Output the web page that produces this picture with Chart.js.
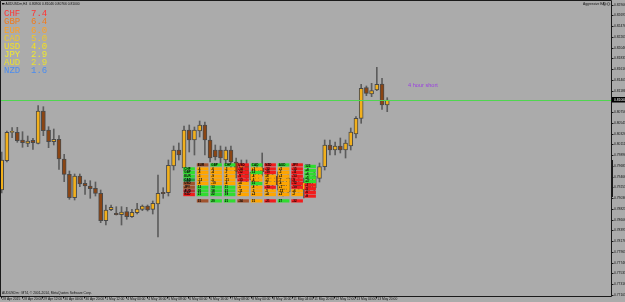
<!DOCTYPE html>
<html>
<head>
<meta charset="utf-8">
<script src="https://cdn.jsdelivr.net/npm/chart.js@4.4.0/dist/chart.umd.min.js"></script>
<style>
html, body { margin: 0; padding: 0; background: #ababab; overflow: hidden; }
canvas { display: block; }
</style>
</head>
<body>
<canvas id="mt4Chart" width="625" height="302"></canvas>
<script>
// AUDUSDm H4 candles, 28 Apr 2015 04:00 .. 14 May 2015 04:00
const candleOpen = [0.7920,0.79786,0.80354,0.80354,0.8020,0.80134,0.80194,0.80134,0.8078,0.8040,
  0.80166,0.80214,0.7982,0.79514,0.79046,0.7948,0.79334,0.7928,0.79234,0.79134,
  0.78586,0.78806,0.78734,0.78706,0.78766,0.78666,0.78746,0.78814,0.7888,0.78814,
  0.7892,0.79154,0.79146,0.7968,0.8000,0.7964,0.8040,0.8020,0.8038,0.8050,
  0.8020,0.8000,0.8000,0.7980,0.8000,0.7976,0.7950,0.7970,0.7940,0.7936,
  0.7964,0.7956,0.7932,0.7948,0.7930,0.7916,0.7944,0.7936,0.7920,0.7936,
  0.7924,0.79434,0.79666,0.8010,0.8000,0.8008,0.8000,0.8008,0.8032,0.80634,
  0.81246,0.8112,0.8120,0.8132,0.8090];
const candleHigh = [0.7996,0.8038,0.80446,0.80454,0.80366,0.8028,0.80234,0.80886,0.80866,0.80466,
  0.8042,0.80286,0.79914,0.7958,0.7952,0.7952,0.7940,0.79386,0.7936,0.7920,
  0.7890,0.7890,0.78866,0.78866,0.78854,0.78814,0.78934,0.7890,0.7890,0.7898,
  0.7950,0.79246,0.7980,0.8008,0.8014,0.8048,0.8050,0.8046,0.8058,0.8056,
  0.8028,0.8010,0.8008,0.8006,0.8008,0.7984,0.7980,0.7980,0.7964,0.7970,
  0.7994,0.7964,0.7956,0.7956,0.7940,0.7950,0.7952,0.7948,0.7944,0.7950,
  0.7956,0.7974,0.8020,0.8020,0.8016,0.8024,0.8020,0.8044,0.80666,0.81314,
  0.8128,0.81334,0.81654,0.81434,0.81046];
const candleLow = [0.7914,0.7976,0.80246,0.80154,0.80054,0.80066,0.80014,0.8012,0.80286,0.80046,
  0.8010,0.79614,0.79366,0.79014,0.7900,0.79266,0.79114,0.79034,0.7908,0.78546,
  0.7850,0.78786,0.7870,0.7850,0.78614,0.78654,0.7872,0.78786,0.7878,0.7872,
  0.7826,0.79034,0.7908,0.7960,0.7980,0.7958,0.7996,0.7990,0.8026,0.7990,
  0.7976,0.7980,0.7974,0.7970,0.7960,0.7944,0.7940,0.7934,0.7930,0.7924,
  0.7948,0.7928,0.7920,0.7920,0.7908,0.7910,0.7924,0.7916,0.7904,0.7916,
  0.7916,0.7936,0.7960,0.7990,0.7990,0.7994,0.7984,0.8000,0.8024,0.80534,
  0.81086,0.81066,0.81186,0.80814,0.80766];
const candleClose = [0.7980,0.80354,0.8036,0.80186,0.80146,0.8018,0.80146,0.8078,0.80386,0.80166,
  0.80214,0.7982,0.79514,0.79046,0.7948,0.7932,0.7928,0.79226,0.79134,0.78586,
  0.7880,0.78854,0.78706,0.7876,0.78666,0.78754,0.7882,0.7888,0.7880,0.78934,
  0.79134,0.79126,0.79694,0.8000,0.7990,0.8040,0.8020,0.8040,0.8050,0.8020,
  0.7984,0.7986,0.7984,0.8000,0.7976,0.7956,0.7970,0.7944,0.7956,0.7964,
  0.7956,0.7936,0.7948,0.7930,0.7920,0.7944,0.7932,0.7928,0.7936,0.7924,
  0.7948,0.79666,0.8010,0.8000,0.8008,0.8000,0.8014,0.8036,0.80634,0.81234,
  0.81134,0.81186,0.81314,0.8090,0.8100];

const dateTickIndex = [0,4,8,12,16,20,24,28,32,36,40,44,48,52,56,60,64,68,72];
const dateTickLabels = ['28 Apr 2015','28 Apr 20:00','29 Apr 12:00','30 Apr 04:00','30 Apr 20:00',
  '1 May 12:00','4 May 00:00','4 May 16:00','5 May 08:00','6 May 00:00','6 May 16:00',
  '7 May 08:00','8 May 00:00','8 May 16:00','11 May 04:00','11 May 20:00','12 May 12:00',
  '13 May 04:00','13 May 20:00'];
const priceTicks = [0.82906,0.82691,0.82476,0.82261,0.82046,0.81831,0.81616,0.81401,0.81186,0.80971,
  0.80756,0.80541,0.80326,0.80111,0.79896,0.79681,0.79466,0.79251,0.79036,0.78821,
  0.78606,0.78391,0.78176,0.77961,0.77746,0.77531,0.77316,0.77101];
const levelPrice = 0.8099;

const strengthNames = ['CHF','GBP','EUR','CAD','USD','JPY','AUD','NZD'];
const strengthValues = [7.4,6.4,6.0,5.0,4.0,2.9,2.9,1.6];
const strengthColors = ['#ff3434','#f07a1a','#ffa020','#f0c828','#f5e020','#f0e830','#e8e030','#4a8cf0'];

// strength matrix drawn over the chart
const tableRowNames = ['CHF','GBP','EUR','CAD','USD','JPY','AUD','NZD'];
const tableRowColors = ['g','g','g','dg','br','br','dr','r'];
const tableHeads = ['EUR','GBP','CHF','USD','CAD','NZD','AUD','JPY'];
const tableHeadColors = ['br','g','g','r','g','r','g','r'];
const tableCells = [
  ['-4','-8','-3','-12','-8','12','20','21'],
  ['-6','-4','-9','-5','-10','13','18','22'],
  ['-3','-7','-2','-11','-6','11','21','19'],
  ['-14','-12','-9','-13','+4','-5','-11','-2'],
  ['+3','12','-4','-6','15','-8','-3','+2'],
  ['-12','-10','+6','+3','-2','-13','-5','+4'],
  ['+5','-3','+2','-7','-4','+1','-12','+3'],
  ['-15','-11','-13','-9','-12','-10','+6','-2']
];
const tableCellColors = [
  ['o','o','o','o','o','g','g','g'],
  ['o','o','o','o','o','g','g','g'],
  ['o','o','o','o','o','g','g','g'],
  ['r','r','r','r','o','o','o','o'],
  ['o','g','o','o','g','o','o','o'],
  ['r','r','o','o','o','r','o','o'],
  ['o','o','o','o','o','o','o','o'],
  ['r','r','r','r','r','r','o','o']
];
const tableSums = ['31','20','21','-34','15','-21','27','-32'];
const tableSumColors = ['br','g','g','br','o','r','g','r'];
const rankHead = '123';
const rankCells = ['+8','+6','+5','+3','-3','-5','-6','-8'];
const rankColors = ['g','g','g','g','r','r','r','r'];

const cellPalette = { o: '#ffa500', r: '#f21c1c', g: '#30dc30', br: '#a0522d', dg: '#1f9e3a', dr: '#b53030' };

const bodyData = candleOpen.map((o, i) => ({ x: i, y: [o, candleClose[i]] }));
const wickData = candleLow.map((l, i) => ({ x: i, y: [l, candleHigh[i]] }));
const bodyColors = candleOpen.map((o, i) => candleClose[i] >= o ? '#f2b01c' : '#8b4513');

const xMin = -0.13, xMax = 116.95;

const mt4Decor = {
  id: 'mt4Decor',
  beforeDraw(chart) {
    const ctx = chart.ctx;
    ctx.save();
    ctx.fillStyle = '#ababab';
    ctx.fillRect(0, 0, chart.width, chart.height);
    ctx.restore();
  },
  afterDatasetsDraw(chart) {
    const ctx = chart.ctx;
    const area = chart.chartArea;
    const xs = chart.scales.x, ys = chart.scales.y;
    ctx.save();

    // frame
    ctx.strokeStyle = '#1a1a1a';
    ctx.lineWidth = 1;
    ctx.beginPath();
    ctx.moveTo(0.5, 0.5); ctx.lineTo(area.right + 0.5, 0.5);
    ctx.moveTo(0.5, 0.5); ctx.lineTo(0.5, area.bottom + 0.5);
    ctx.moveTo(area.right + 0.5, 0.5); ctx.lineTo(area.right + 0.5, area.bottom + 0.5);
    ctx.lineTo(0, area.bottom + 0.5);
    ctx.stroke();
    ctx.fillStyle = '#1a1a1a';
    ctx.fillRect(area.right, 160, 2, 37);

    // price axis
    ctx.font = '3.3px "Liberation Sans"';
    ctx.textBaseline = 'middle';
    ctx.textAlign = 'left';
    priceTicks.forEach(v => {
      const y = Math.round(ys.getPixelForValue(v)) + 0.5;
      ctx.beginPath();
      ctx.moveTo(area.right, y); ctx.lineTo(area.right + 2.5, y);
      ctx.stroke();
      ctx.fillStyle = '#111';
      ctx.fillText(v.toFixed(5), area.right + 3, y);
    });
    const lastClose = candleClose[candleClose.length - 1];
    const cy = ys.getPixelForValue(lastClose);
    ctx.fillStyle = '#000';
    ctx.fillRect(area.right + 1, cy - 3, 14, 5.5);
    ctx.fillStyle = '#fff';
    ctx.fillText(lastClose.toFixed(5), area.right + 3, cy);

    // time axis
    ctx.fillStyle = '#111';
    dateTickIndex.forEach((idx, k) => {
      const x = Math.round(xs.getPixelForValue(idx) - 1) + 0.5;
      ctx.beginPath();
      ctx.moveTo(x, area.bottom); ctx.lineTo(x, area.bottom + 2.5);
      ctx.stroke();
      ctx.fillText(dateTickLabels[k], x + 0.8, area.bottom + 3);
    });

    // title and copyright
    ctx.fillRect(2, 3, 2.5, 1.5);
    ctx.fillText('AUDUSDm,H4  0.80900 0.81046 0.80766 0.81000', 5.5, 4);
    ctx.fillText('AUDUSDm : MT4, \u00a9 2001-2014, MetaQuotes Software Corp.', 2, 293);
    ctx.fillText('Aggressive EA', 583, 4);
    ctx.strokeStyle = '#222';
    ctx.lineWidth = 0.5;
    [604.5, 608.5].forEach(cx => { ctx.beginPath(); ctx.arc(cx, 4, 1.4, 0, Math.PI * 2); ctx.stroke(); });

    // note
    ctx.font = '5.6px "Liberation Sans"';
    ctx.fillStyle = '#9a3ee0';
    ctx.fillText('4 hour short', 408, 85);

    // strength list
    ctx.font = '9px "Liberation Mono"';
    strengthNames.forEach((n, i) => {
      ctx.fillStyle = strengthColors[i];
      ctx.fillText(n + '  ' + strengthValues[i].toFixed(1), 4, 14 + i * 8.1);
    });

    // matrix
    const x0 = 183.3, colStep = 13.5, colW = 11.6;
    const headY = 163.3, rowY0 = 167.3, rowStep = 3.67, cellH = 3.2, sumY = 199.3;
    ctx.font = 'bold 3px "Liberation Sans"';
    const cell = (x, y, key, txt) => {
      ctx.fillStyle = cellPalette[key];
      ctx.fillRect(x, y, colW, cellH);
      ctx.fillStyle = '#000';
      ctx.fillText(txt, x + 1, y + cellH / 2);
    };
    tableRowNames.forEach((n, r) => cell(x0, rowY0 + r * rowStep, tableRowColors[r], n));
    tableHeads.forEach((h, c) => {
      const x = x0 + (c + 1) * colStep;
      cell(x, headY, tableHeadColors[c], h);
      tableCells[c].forEach((t, r) => cell(x, rowY0 + r * rowStep, tableCellColors[c][r], t));
      cell(x, sumY, tableSumColors[c], tableSums[c]);
    });
    const xr = x0 + 9 * colStep - 0.5;
    cell(xr, headY + 1.5, 'g', rankHead);
    rankCells.forEach((t, r) => cell(xr, rowY0 + 1.5 + r * rowStep, rankColors[r], t));

    ctx.restore();
  }
};

new Chart(document.getElementById('mt4Chart').getContext('2d'), {
  type: 'bar',
  data: {
    datasets: [
      {
        type: 'line',
        data: [{ x: xMin, y: levelPrice }, { x: xMax, y: levelPrice }],
        borderColor: '#4fd64f',
        borderWidth: 1,
        pointRadius: 0,
        order: 1
      },
      {
        data: bodyData,
        backgroundColor: bodyColors,
        borderColor: '#4a4a4a',
        borderWidth: 1,
        borderSkipped: false,
        barThickness: 4,
        minBarLength: 1,
        grouped: false,
        order: 2
      },
      {
        data: wickData,
        backgroundColor: '#5c5c5c',
        borderWidth: 0,
        barThickness: 1,
        grouped: false,
        order: 3
      }
    ]
  },
  options: {
    responsive: false,
    animation: false,
    events: [],
    layout: { padding: { left: 1, top: 1, right: 14, bottom: 6 } },
    plugins: { legend: { display: false }, tooltip: { enabled: false } },
    scales: {
      x: { type: 'linear', min: xMin, max: xMax, display: false, offset: false },
      y: { min: 0.7708, max: 0.8298, display: false }
    }
  },
  plugins: [mt4Decor]
});
</script>
</body>
</html>
